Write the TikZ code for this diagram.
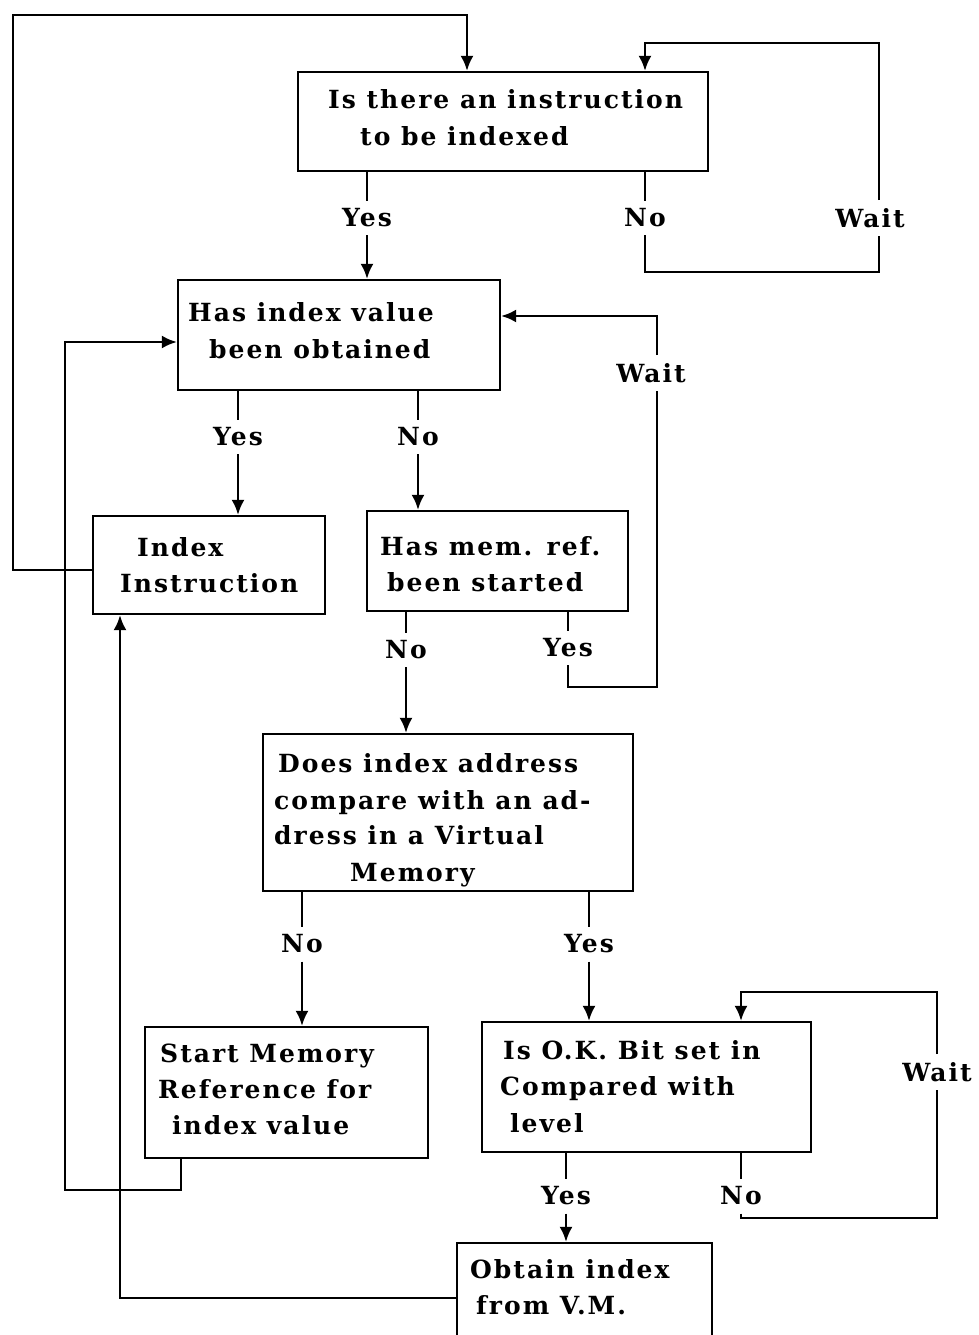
\documentclass[tikz,border=0pt]{standalone}
\usepackage{fontspec}
\setmainfont{DejaVu Serif}[LetterSpace=8]
\usetikzlibrary{arrows.meta}
\begin{document}
\begin{tikzpicture}[x=1pt,y=-1pt,
  box/.style={draw,line width=2.2pt,rectangle,inner sep=0pt},
  txt/.style={anchor=base west,inner sep=0pt,font=\bfseries\fontsize{25}{30}\selectfont},
  lbl/.style={inner xsep=2pt,inner ysep=8pt,font=\bfseries\fontsize{25}{30}\selectfont},
  con/.style={line width=2.6pt},
  arr/.style={line width=2.6pt,-{Latex[length=15pt,width=13pt]}}]
\useasboundingbox[fill=white] (0,0) rectangle (978,1335);
% boxes
\node[box,minimum width=410pt,minimum height=99pt] (b1) at (503,121.5) {};
\node[box,minimum width=322pt,minimum height=110pt] (b2) at (339,335) {};
\node[box,minimum width=232pt,minimum height=98pt] (b3) at (209,565) {};
\node[box,minimum width=261pt,minimum height=100pt] (b4) at (497.5,561) {};
\node[box,minimum width=370pt,minimum height=157pt] (b5) at (448,812.5) {};
\node[box,minimum width=283pt,minimum height=131pt] (b6) at (286.5,1092.5) {};
\node[box,minimum width=329pt,minimum height=130pt] (b7) at (646.5,1087) {};
\node[box,minimum width=255pt,minimum height=100pt] (b8) at (584.5,1293) {};
% texts
\node[txt] (t1a) at (328,109) {Is there an instruction};
\node[txt] (t1b) at (360,146) {to be indexed};
\node[txt] (t2a) at (188,321) {Has index value};
\node[txt] (t2b) at (209,358) {been obtained};
\node[txt] (t3a) at (137,556) {Index};
\node[txt] (t3b) at (120,592) {Instruction};
\node[txt] (t4a) at (380,555) {Has mem. ref.};
\node[txt] (t4b) at (387,591) {been started};
\node[txt] (t5a) at (278,772) {Does index address};
\node[txt] (t5b) at (274,809) {compare with an ad-};
\node[txt] (t5c) at (274,844) {dress in a Virtual};
\node[txt] (t5d) at (350,881) {Memory};
\node[txt] (t6a) at (160,1062) {Start Memory};
\node[txt] (t6b) at (158,1098) {Reference for};
\node[txt] (t6c) at (172,1134) {index value};
\node[txt] (t7a) at (503,1059) {Is O.K. Bit set in};
\node[txt] (t7b) at (500,1095) {Compared with};
\node[txt] (t7c) at (510,1132) {level};
\node[txt] (t8a) at (470,1278) {Obtain index};
\node[txt] (t8b) at (476,1314) {from V.M.};
% labels
\node[lbl] (y1) at (367,218) {Yes};
\node[lbl] (n1) at (645,218) {No};
\node[lbl] (w1) at (870,218) {Wait};
\node[lbl] (y2) at (238,437) {Yes};
\node[lbl] (n2) at (418,437) {No};
\node[lbl] (w2) at (651,373) {Wait};
\node[lbl] (n3) at (406,650) {No};
\node[lbl] (y3) at (568,648) {Yes};
\node[lbl] (n4) at (302,944) {No};
\node[lbl] (y4) at (589,944) {Yes};
\node[lbl] (y5) at (566,1196) {Yes};
\node[lbl] (n5) at (741,1196) {No};
\node[lbl] (w3) at (937,1072) {Wait};
% connectors
\draw[arr] (b3.west |- 0,570) -- (13,570) -- (13,15) -- (467,15) -- (b1.north -| 467,0);
\draw[con] (b1.south -| y1.north) -- (y1.north);
\draw[arr] (y1.south) -- (b2.north -| y1.south);
\draw[con] (b1.south -| n1.north) -- (n1.north);
\draw[con] (n1.south) -- (n1.south |- 0,272) -- (879,272) -- (w1.south -| 879,0);
\draw[arr] (w1.north -| 879,0) -- (879,43) -- (n1.north |- 0,43) -- (b1.north -| n1.north);
\draw[con] (b2.south -| y2.north) -- (y2.north);
\draw[arr] (y2.south) -- (b3.north -| y2.south);
\draw[con] (b2.south -| n2.north) -- (n2.north);
\draw[arr] (n2.south) -- (b4.north -| n2.south);
\draw[con] (b4.south -| n3.north) -- (n3.north);
\draw[arr] (n3.south) -- (b5.north -| n3.south);
\draw[con] (b4.south -| y3.north) -- (y3.north);
\draw[con] (y3.south) -- (y3.south |- 0,687) -- (657,687) -- (w2.south -| 657,0);
\draw[arr] (w2.north -| 657,0) -- (657,316) -- (b2.east |- 0,316);
\draw[con] (b5.south -| n4.north) -- (n4.north);
\draw[arr] (n4.south) -- (b6.north -| n4.south);
\draw[con] (b5.south -| y4.north) -- (y4.north);
\draw[arr] (y4.south) -- (b7.north -| y4.south);
\draw[con] (b7.south -| y5.north) -- (y5.north);
\draw[arr] (y5.south) -- (b8.north -| y5.south);
\draw[con] (b7.south -| n5.north) -- (n5.north);
\draw[con] (n5.south) -- (n5.south |- 0,1218) -- (937,1218) -- (w3.south -| 937,0);
\draw[arr] (w3.north -| 937,0) -- (937,992) -- (741,992) -- (b7.north -| 741,0);
\draw[arr] (b6.south -| 181,0) -- (181,1190) -- (65,1190) -- (65,342) -- (b2.west |- 0,342);
\draw[arr] (b8.west |- 0,1298) -- (120,1298) -- (b3.south -| 120,0);
\end{tikzpicture}
\end{document}
